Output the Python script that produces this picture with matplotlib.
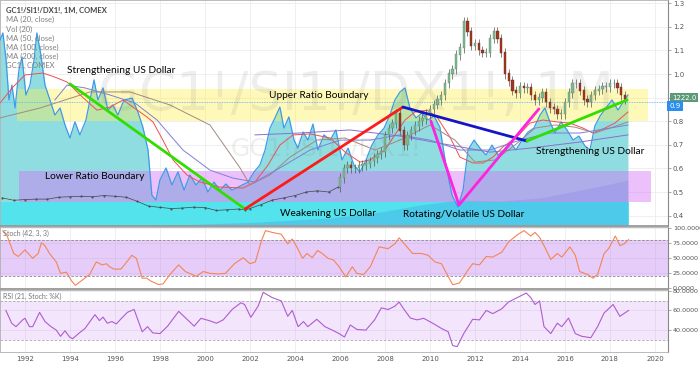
import matplotlib
matplotlib.use('Agg')
import matplotlib.pyplot as plt
import numpy as np
import pandas as pd

# ---- data (decimal years, ratio values) ----

# early part of the GC1!/SI1!/DX1! ratio (tiny candles, drawn as a line)
early_years = [1991.0, 1991.5, 1992.0, 1992.5, 1993.0, 1993.5, 1994.0, 1994.5, 1995.0, 1995.5,
               1996.0, 1996.5, 1997.0, 1997.5, 1998.0, 1998.5, 1999.0, 1999.5, 2000.0, 2000.5,
               2001.0, 2001.5, 2001.8, 2002.0, 2002.5, 2003.0, 2003.5, 2004.0, 2004.5, 2005.0,
               2005.5, 2005.9]
early_vals = [0.475, 0.465, 0.468, 0.47, 0.47, 0.478, 0.48, 0.482, 0.48, 0.485,
              0.482, 0.478, 0.46, 0.44, 0.435, 0.43, 0.432, 0.436, 0.434, 0.422,
              0.425, 0.428, 0.424, 0.43, 0.447, 0.466, 0.475, 0.485, 0.50, 0.505,
              0.50, 0.52]

# candle closes, every two months from Jan 2006
candle_dates = pd.date_range('2006-01-01', periods=77, freq='2MS')
candle_close = [0.56, 0.60, 0.61, 0.60, 0.60, 0.61,
                0.615, 0.62, 0.63, 0.645, 0.66, 0.67,
                0.74, 0.77, 0.79, 0.83, 0.76, 0.70,
                0.74, 0.76, 0.78, 0.80, 0.81, 0.83,
                0.85, 0.87, 0.89, 0.91, 0.96, 1.00,
                1.02, 1.08, 1.11, 1.22, 1.18, 1.12,
                1.13, 1.10, 1.09, 1.09, 1.15, 1.18,
                1.15, 1.09, 1.00, 0.97, 0.93, 0.92,
                0.945, 0.94, 0.94, 0.91, 0.89, 0.90,
                0.92, 0.88, 0.856, 0.85, 0.83, 0.83,
                0.88, 0.92, 0.96, 0.96, 0.93, 0.89,
                0.88, 0.91, 0.93, 0.935, 0.945, 0.945,
                0.96, 0.96, 0.94, 0.91, 0.895]

# GC1!, COMEX comparison (blue area)
blue_years = [1990.89, 1991.02, 1991.16, 1991.29, 1991.42, 1991.56, 1991.73, 1991.87, 1992.04, 1992.22,
              1992.4, 1992.53, 1992.71, 1992.89, 1993.11, 1993.33, 1993.56, 1993.78, 1994.0, 1994.22,
              1994.44, 1994.71, 1994.89, 1995.07, 1995.24, 1995.47, 1995.69, 1995.91, 1996.13, 1996.4,
              1996.76, 1997.02, 1997.24, 1997.47, 1997.64, 1997.82, 1998.0, 1998.27, 1998.53, 1998.8,
              1999.07, 1999.33, 1999.6, 1999.87, 2000.13, 2000.4, 2000.67, 2000.93, 2001.2, 2001.56,
              2001.91, 2002.18, 2002.44, 2002.67, 2002.89, 2003.11, 2003.33, 2003.51, 2003.73, 2003.96,
              2004.13, 2004.36, 2004.58, 2004.8, 2005.02, 2005.29, 2005.56, 2005.82, 2006.09, 2006.36,
              2006.62, 2006.89, 2007.16, 2007.42, 2007.69, 2007.96, 2008.22, 2008.44, 2008.67, 2008.89,
              2009.11, 2009.38, 2009.64, 2009.91, 2010.18, 2010.44, 2010.71, 2010.98, 2011.24, 2011.47,
              2011.69, 2011.96, 2012.22, 2012.49, 2012.76, 2013.02, 2013.29, 2013.56, 2013.82, 2014.09,
              2014.36, 2014.62, 2014.89, 2015.11, 2015.33, 2015.56, 2015.82, 2016.09, 2016.36, 2016.62,
              2016.89, 2017.11, 2017.33, 2017.56, 2017.82, 2018.09, 2018.36, 2018.58, 2018.8]
blue_vals = [1.144, 1.174, 1.059, 0.89, 0.953, 0.856, 1.017, 1.072, 0.911, 0.953,
             1.059, 1.174, 1.08, 0.953, 0.89, 0.826, 0.856, 0.784, 0.729, 0.797,
             0.742, 0.805, 0.89, 0.975, 0.89, 0.941, 0.847, 0.869, 0.826, 0.89,
             0.898, 0.839, 0.775, 0.678, 0.487, 0.466, 0.551, 0.602, 0.53, 0.585,
             0.508, 0.572, 0.53, 0.559, 0.5, 0.542, 0.508, 0.534, 0.508, 0.525,
             0.542, 0.585, 0.614, 0.678, 0.771, 0.814, 0.86, 0.771, 0.818, 0.72,
             0.686, 0.754, 0.72, 0.788, 0.678, 0.742, 0.72, 0.763, 0.636, 0.686,
             0.614, 0.585, 0.636, 0.699, 0.742, 0.771, 0.826, 0.89, 0.924, 0.941,
             0.856, 0.814, 0.835, 0.805, 0.822, 0.775, 0.614, 0.487, 0.436, 0.508,
             0.678, 0.72, 0.686, 0.657, 0.699, 0.657, 0.678, 0.712, 0.678, 0.72,
             0.754, 0.771, 0.826, 0.856, 0.797, 0.75, 0.797, 0.763, 0.72, 0.737,
             0.695, 0.678, 0.78, 0.822, 0.856, 0.89, 0.847, 0.881, 0.911]

# volume area (in ratio-axis units)
vol_years = [1990.89, 1997.56, 1999.78, 2002.44, 2005.56, 2007.78, 2009.56, 2011.33, 2013.11, 2014.89,
             2016.67, 2018.0, 2018.8]
vol_vals = [0.356, 0.356, 0.364, 0.373, 0.39, 0.415, 0.445, 0.466, 0.462, 0.475,
            0.508, 0.534, 0.551]

# moving averages
ma20_years = [1990.89, 1991.47, 1992.0, 1992.8, 1993.33, 1993.87, 1994.58, 1995.2, 1995.78, 1996.36,
              1996.8, 1997.42, 1997.69, 1998.13, 1998.58, 1999.2, 1999.78, 2000.67, 2001.69, 2002.22,
              2002.8, 2003.33, 2003.91, 2004.67, 2005.56, 2006.22, 2006.89, 2007.33, 2008.0, 2008.44,
              2008.89, 2009.33, 2009.87, 2010.31, 2010.89, 2011.33, 2011.91, 2012.36, 2012.8, 2013.24,
              2013.87, 2014.44, 2015.02, 2015.64, 2016.22, 2016.8, 2017.24, 2017.78, 2018.22, 2018.8]
ma20_vals = [0.877, 0.945, 0.996, 1.004, 0.987, 0.966, 0.90, 0.847, 0.86, 0.89,
             0.86, 0.818, 0.797, 0.72, 0.636, 0.572, 0.542, 0.521, 0.517, 0.542,
             0.614, 0.699, 0.742, 0.746, 0.729, 0.67, 0.627, 0.636, 0.678, 0.742,
             0.805, 0.839, 0.847, 0.818, 0.733, 0.648, 0.623, 0.623, 0.648, 0.691,
             0.733, 0.792, 0.805, 0.797, 0.792, 0.771, 0.75, 0.771, 0.792, 0.839]

ma50_years = [1990.89, 1992.67, 1994.89, 1996.67, 1998.44, 2000.22, 2001.56, 2002.0, 2002.89, 2003.78,
              2004.98, 2006.22, 2007.56, 2008.67, 2010.0, 2011.11, 2012.0, 2012.89, 2013.78, 2014.67,
              2015.56, 2016.44, 2017.33, 2018.13, 2018.8]
ma50_vals = [0.814, 0.856, 0.924, 0.924, 0.869, 0.784, 0.602, 0.53, 0.572, 0.648,
             0.72, 0.729, 0.678, 0.72, 0.784, 0.72, 0.627, 0.636, 0.699, 0.771,
             0.784, 0.775, 0.75, 0.775, 0.797]

ma100_years = [1993.33, 1993.87, 1994.67, 1995.78, 1996.89, 1997.87, 1999.02, 2000.22, 2001.24, 2002.22,
               2003.33, 2004.67, 2006.0, 2007.33, 2008.67, 2010.0, 2011.33, 2012.67, 2014.0, 2015.33,
               2016.67, 2018.0, 2018.8]
ma100_vals = [0.89, 0.953, 0.941, 0.911, 0.877, 0.805, 0.678, 0.593, 0.559, 0.542,
              0.602, 0.678, 0.72, 0.72, 0.742, 0.72, 0.678, 0.678, 0.72, 0.75,
              0.75, 0.771, 0.784]

ma200_years = [2002.22, 2004.22, 2006.44, 2008.67, 2010.89, 2012.67, 2014.44, 2016.67, 2018.8]
ma200_vals = [0.742, 0.75, 0.763, 0.737, 0.699, 0.669, 0.686, 0.712, 0.742]

# hand-drawn trend lines
trend_lines = [
    ([1994.0, 2001.78], [0.958, 0.428], '#33dd00'),
    ([2001.78, 2008.8], [0.428, 0.86], '#ff1a1a'),
    ([2008.8, 2014.31], [0.86, 0.716], '#1515c8'),
    ([2010.04, 2011.29, 2014.84], [0.801, 0.445, 0.852], '#ff22e0'),
    ([2014.31, 2018.76], [0.716, 0.89], '#33dd00'),
]

# boxes: (x0, x1, y0, y1)
upper_box = (1991.64, 2019.69, 0.802, 0.936)
lower_box = (1991.73, 2019.82, 0.459, 0.59)
cyan_box = (1990.89, 2018.84, 0.356, 0.458)

labels = [
    ('Strengthening US Dollar', 1993.87, 1.013),
    ('Upper Ratio Boundary', 2002.84, 0.907),
    ('Lower Ratio Boundary', 1992.89, 0.564),
    ('Weakening US Dollar', 2003.33, 0.407),
    ('Rotating/Volatile US Dollar', 2008.8, 0.403),
    ('Strengthening US Dollar', 2014.71, 0.67),
]

legend_lines = ['GC1!/SI1!/DX1!, 1M, COMEX', 'MA (20, close)', 'Vol (20)', 'MA (50, close)',
                'MA (100, close)', 'MA (200, close)', 'GC1!, COMEX']

stoch_years = [1991.01, 1991.21, 1991.5, 1991.7, 1992.0, 1992.34, 1992.59, 1992.73, 1992.89, 1993.09,
               1993.39, 1993.58, 1993.84, 1994.08, 1994.24, 1994.57, 1994.87, 1995.17, 1995.43, 1995.62,
               1995.76, 1995.96, 1996.26, 1996.46, 1996.75, 1996.95, 1997.21, 1997.41, 1997.6, 1997.94,
               1998.14, 1998.44, 1998.83, 1999.13, 1999.62, 1999.92, 2000.22, 2000.61, 2000.91, 2001.31,
               2001.7, 2002.0, 2002.24, 2002.51, 2002.69, 2002.99, 2003.39, 2003.68, 2003.88, 2004.08,
               2004.34, 2004.53, 2004.77, 2005.01, 2005.21, 2005.47, 2005.72, 2005.96, 2006.26, 2006.55,
               2006.75, 2007.05, 2007.35, 2007.74, 2008.14, 2008.44, 2008.63, 2008.93, 2009.23, 2009.62,
               2009.92, 2010.22, 2010.51, 2010.81, 2011.01, 2011.31, 2011.7, 2011.9, 2012.2, 2012.5,
               2012.79, 2013.19, 2013.49, 2013.88, 2014.18, 2014.48, 2014.67, 2014.87, 2015.07, 2015.37,
               2015.66, 2015.86, 2016.22, 2016.46, 2016.65, 2017.01, 2017.25, 2017.45, 2017.74, 2017.94,
               2018.24, 2018.44, 2018.63, 2018.83]
stoch_vals = [94.6, 86, 57, 52, 63, 49, 57, 75, 70, 57,
              43, 24, 26, 11, 4, 13.5, 22, 43, 38, 40,
              35, 31, 31, 40, 54, 49, 16, 16, 11, 5.4,
              6.5, 22, 38, 27, 19, 27, 24, 23, 24, 40,
              50, 40, 43, 78, 95, 92, 89, 73, 81, 68,
              49, 57, 50, 62, 57, 49, 46, 35, 18, 35,
              24, 22, 35, 68, 65, 73, 83, 70, 57, 57,
              54, 43, 40, 19, 5, 8, 30, 40, 38, 52,
              51, 59, 76, 88, 95, 86, 92, 84, 70, 47,
              57, 51, 68, 54, 27, 22, 16, 22, 57, 65,
              86, 70, 73, 80]

rsi_years = [1991.15, 1991.41, 1991.6, 1991.9, 1992.0, 1992.2, 1992.34, 1992.65, 1992.89, 1993.13,
             1993.39, 1993.58, 1993.78, 1993.98, 1994.12, 1994.38, 1994.67, 1995.11, 1995.31, 1995.47,
             1995.66, 1995.86, 1996.06, 1996.3, 1996.55, 1996.85, 1997.21, 1997.45, 1997.68, 1998.0,
             1998.34, 1998.83, 1999.23, 1999.52, 1999.82, 2000.22, 2000.51, 2000.81, 2001.21, 2001.6,
             2001.76, 2002.04, 2002.36, 2002.59, 2002.99, 2003.39, 2003.68, 2003.88, 2004.14, 2004.38,
             2004.57, 2004.97, 2005.33, 2005.66, 2005.96, 2006.2, 2006.46, 2006.75, 2007.15, 2007.54,
             2007.84, 2008.14, 2008.44, 2008.63, 2008.83, 2009.13, 2009.43, 2009.72, 2010.12, 2010.51,
             2010.81, 2011.01, 2011.21, 2011.5, 2011.9, 2012.2, 2012.5, 2012.79, 2013.19, 2013.49,
             2013.88, 2014.28, 2014.48, 2014.67, 2014.87, 2015.07, 2015.37, 2015.66, 2015.86, 2016.16,
             2016.46, 2016.75, 2017.15, 2017.45, 2017.74, 2018.14, 2018.44, 2018.83]
rsi_vals = [60, 47, 43.5, 50.4, 52, 43.5, 43.5, 58, 48.7, 44,
            40, 33.7, 39.3, 33, 31.3, 36.5, 41.7, 55.7, 49.7, 53.2,
            47, 48.7, 46.3, 52.2, 58, 61, 38.3, 43.5, 37.2, 36.5,
            44, 59, 50.4, 44, 52, 49.4, 47, 50.4, 61, 67.8,
            66, 53, 64.3, 78.3, 73, 69.6, 54, 60, 43.5, 48.7,
            43.5, 51, 43.5, 40, 36.5, 33, 45.2, 40.7, 40, 50.4,
            62.6, 60.9, 64.3, 68.5, 61.6, 52.2, 50.4, 52, 47, 41.7,
            38.3, 24.3, 23.3, 36.5, 51, 50.4, 60, 56.7, 61.6, 68.5,
            73, 77.6, 73, 66, 69.6, 43.5, 36.5, 47, 43.5, 52.2,
            36.5, 33.7, 32.3, 43.5, 57.4, 66, 54, 60]

year_ticks = list(range(1992, 2021, 2))
price_ticks = [0.4, 0.5, 0.6, 0.7, 0.8, 0.9, 1.0, 1.1, 1.2, 1.3]
stoch_ticks = [0, 25, 50, 75, 100]
rsi_ticks = [40, 60, 80]
last_close = 0.88

# ---- figure ----
W, H = 700, 365
fig = plt.figure(figsize=(7, 3.65), dpi=100)
fig.patch.set_facecolor('white')


def px_axes(x0, y0, x1, y1):
    return fig.add_axes([x0 / W, 1 - y1 / H, (x1 - x0) / W, (y1 - y0) / H])


ax = px_axes(0, 0, 668, 226)
ax_st = px_axes(0, 227, 668, 289)
ax_rsi = px_axes(0, 290, 668, 352)

xlim = (1990.89, 2020.58)

for a in (ax, ax_st, ax_rsi):
    a.set_xlim(*xlim)
    a.set_xticks(year_ticks)
    a.grid(True, color='#ececec', lw=0.6, zorder=0)
    a.set_axisbelow(True)
    a.yaxis.tick_right()
    a.tick_params(axis='y', length=2, width=0.5, color='#888888', pad=1.5, labelsize=4.6,
                  labelcolor='#555555')
    a.tick_params(axis='x', length=0)
    for s in a.spines.values():
        s.set_color('#b0b0b0')
        s.set_linewidth(0.6)
    a.spines['right'].set_color('#888888')
    a.spines['right'].set_linewidth(0.8)

ax.set_xticklabels([])
ax_st.set_xticklabels([])
ax_rsi.set_xticklabels([str(y) for y in year_ticks], fontsize=5, color='#555555')
ax_rsi.tick_params(axis='x', pad=3)
ax.spines['bottom'].set_color('#999999')
ax.spines['bottom'].set_linewidth(1.3)
ax_st.spines['bottom'].set_color('#999999')
ax_st.spines['bottom'].set_linewidth(1.3)

# ---- main panel ----
ax.set_ylim(0.356, 1.3136)
ax.set_yticks(price_ticks)
# the 0.9 label sits under the price tags
ax.set_yticklabels(['' if t == 0.9 else '%.1f' % t for t in price_ticks], fontsize=5)

ax.fill_between(blue_years, blue_vals, 0.356, color='#8fdde0', lw=0, zorder=1)
ax.add_patch(plt.Rectangle((cyan_box[0], cyan_box[2]), cyan_box[1] - cyan_box[0],
                           cyan_box[3] - cyan_box[2], color='#3fe6f2', alpha=0.75, lw=0, zorder=1.5))
ax.fill_between(vol_years, vol_vals, 0.356, color='#3a6fe0', alpha=0.22, lw=0, zorder=1.6)
ax.plot(blue_years, blue_vals, color='#3c9be8', lw=0.9, zorder=3)

ax.add_patch(plt.Rectangle((upper_box[0], upper_box[2]), upper_box[1] - upper_box[0],
                           upper_box[3] - upper_box[2], color='#fff050', alpha=0.4, lw=0, zorder=2.5))
ax.add_patch(plt.Rectangle((lower_box[0], lower_box[2]), lower_box[1] - lower_box[0],
                           lower_box[3] - lower_box[2], color='#d674f6', alpha=0.45, lw=0, zorder=2.5))

ax.plot(ma20_years, ma20_vals, color='#f05050', lw=0.7, zorder=4)
ax.plot(ma50_years, ma50_vals, color='#a08a80', lw=0.7, zorder=4)
ax.plot(ma100_years, ma100_vals, color='#7f7fd5', lw=0.7, zorder=4)
ax.plot(ma200_years, ma200_vals, color='#8a6fc8', lw=0.7, zorder=4)

ax.axhline(last_close, color='#5ab4f0', lw=0.6, ls=(0, (1, 1)), zorder=4)

# ratio: early line + candles
ax.plot(early_years, early_vals, color='#444444', lw=0.5, marker='.', ms=1.0, zorder=5)
cyears = candle_dates.year + (candle_dates.month - 1) / 12
closes = np.array(candle_close)
opens = np.r_[early_vals[-1], closes[:-1]]
up = closes >= opens
body_lo = np.minimum(opens, closes)
body_hi = np.maximum(opens, closes)
ax.vlines(cyears, body_lo - 0.02, body_hi + 0.02, color='#555555', lw=0.5, zorder=5)
ax.bar(cyears, body_hi - body_lo + 0.003, bottom=body_lo, width=0.1,
       color=np.where(up, '#7fb890', '#9c3a22'), edgecolor=np.where(up, '#5f8f70', '#7a2a18'),
       lw=0.3, zorder=5.5)

# watermarks
fig.text(356 / W, 1 - 95 / H, 'GC1!/SI1!/DX1!, 1M', ha='center', va='center', fontsize=38,
         color='#808080', alpha=0.13, zorder=6)
fig.text(326 / W, 1 - 149 / H, 'GC1!/SI1!/DX1!', ha='center', va='center', fontsize=18,
         color='#808080', alpha=0.13, zorder=6)

for xs, ys, c in trend_lines:
    ax.plot(xs, ys, color=c, lw=2.0, solid_capstyle='round', zorder=7)

for txt, x, y in labels:
    ax.text(x, y, txt, fontsize=7.3, family='Lato', color='black', va='center', ha='left', zorder=8)

for i, t in enumerate(legend_lines):
    fig.text(6 / W, 1 - (10.7 + i * 9.2) / H, t, fontsize=5.5, family='Lato',
             color='#444444' if i == 0 else '#808080', va='center', ha='left',
             fontweight='bold' if i == 0 else 'normal')

# price tags on the right axis
fig.text(684 / W, 1 - 97.5 / H, '1222.0', ha='center', va='center', fontsize=5, color='white',
         bbox=dict(boxstyle='square,pad=0.25', fc='#5f9a78', ec='none'))
fig.text(675 / W, 1 - 106 / H, '0.9', ha='center', va='center', fontsize=5, color='white',
         bbox=dict(boxstyle='square,pad=0.3', fc='#2a8ff0', ec='none'))

# ---- stochastic panel ----
ax_st.set_ylim(-2, 101)
ax_st.set_yticks(stoch_ticks)
ax_st.set_yticklabels(['%.4f' % t for t in stoch_ticks])
ax_st.axhspan(20, 80, color='#c080f0', alpha=0.4, lw=0, zorder=1)
ax_st.axhline(80, color='#888888', lw=0.6, ls=(0, (3, 2)), zorder=2)
ax_st.axhline(20, color='#888888', lw=0.6, ls=(0, (3, 2)), zorder=2)
ax_st.plot(stoch_years, stoch_vals, color='#f58555', lw=0.8, zorder=3)
ax_st.text(0.004, 0.9, 'Stoch (42, 3, 3)', transform=ax_st.transAxes, fontsize=5, family='Lato',
           color='#777777', va='center')

# ---- RSI panel ----
ax_rsi.set_ylim(17.8, 80.7)
ax_rsi.set_yticks(rsi_ticks)
ax_rsi.set_yticklabels(['%.4f' % t for t in rsi_ticks])
ax_rsi.axhspan(30, 70, color='#c080f0', alpha=0.2, lw=0, zorder=1)
ax_rsi.axhline(70, color='#aaaaaa', lw=0.6, ls=(0, (3, 2)), zorder=2)
ax_rsi.axhline(30, color='#aaaaaa', lw=0.6, ls=(0, (3, 2)), zorder=2)
ax_rsi.plot(rsi_years, rsi_vals, color='#b05cd0', lw=0.8, zorder=3)
ax_rsi.text(0.004, 0.9, 'RSI (21, Stoch: %K)', transform=ax_rsi.transAxes, fontsize=5, family='Lato',
            color='#777777', va='center')

fig.savefig('out.png', dpi=100)
